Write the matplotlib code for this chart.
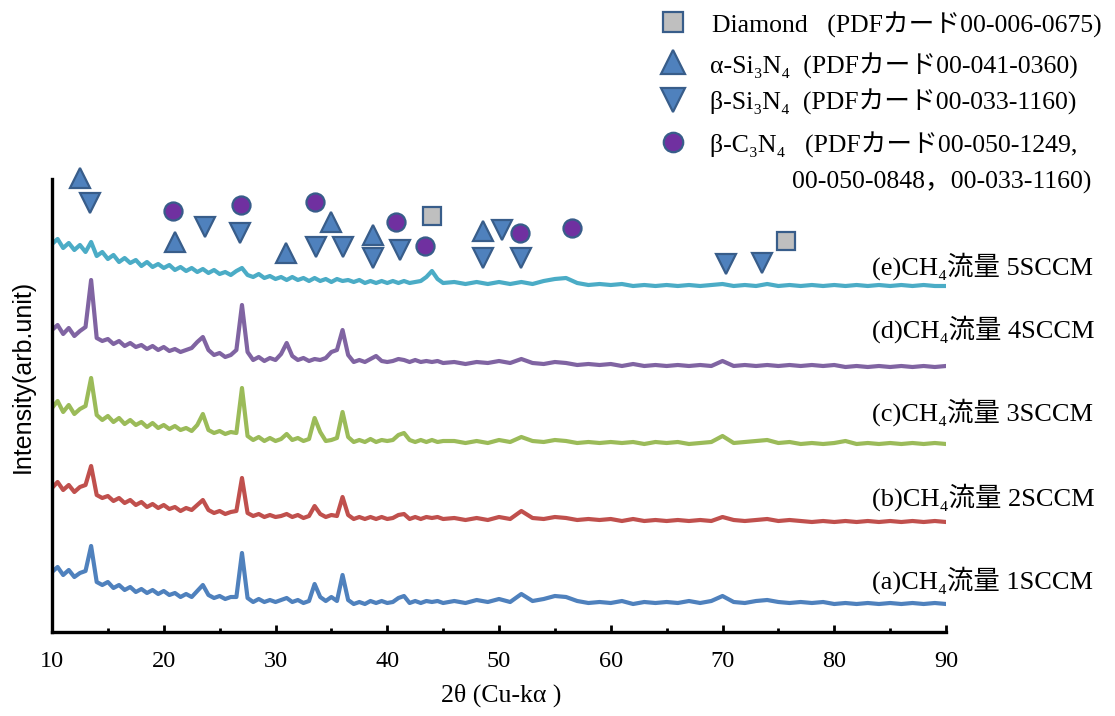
import numpy as np
import matplotlib
matplotlib.use("Agg")
import matplotlib.pyplot as plt
from matplotlib.lines import Line2D

serif = ["Liberation Serif", "Noto Sans CJK JP", "DejaVu Serif"]
plt.rcParams["font.family"] = serif

# 2θ sampling: 0.5 deg up to 45, 1 deg beyond
two_theta = np.concatenate([np.arange(10, 45.01, 0.5), np.arange(46, 90.01, 1.0)])

# intensities (arb. unit), stacked as in the figure
int_a = [60, 65, 57, 62, 55, 59, 61, 86, 50, 47, 50, 44, 47, 42, 45, 40, 43, 39, 42, 38,
         41, 37, 39, 35, 38, 35, 41, 47, 37, 34, 36, 33, 35, 35, 79, 34, 30, 33, 30, 32,
         30, 32, 34, 30, 32, 29, 31, 48, 35, 31, 35, 31, 57, 32, 28, 30, 28, 31, 29, 31,
         29, 30, 34, 36, 29, 31, 29, 31, 30, 31, 29,
         31, 29, 32, 30, 33, 30, 38, 31, 33, 36, 35, 31, 29, 30, 29, 31, 28, 30, 29, 30,
         29, 31, 29, 31, 36, 30, 29, 31, 32, 30, 29, 30, 29, 30, 28, 29, 28, 29, 28, 29,
         28, 29, 28, 29, 28]
int_b = [144, 150, 142, 147, 140, 145, 147, 166, 137, 134, 136, 131, 134, 129, 132, 127, 130, 125, 128, 124,
         127, 123, 125, 121, 124, 122, 127, 132, 122, 119, 121, 118, 120, 121, 154, 119, 116, 118, 115, 117,
         115, 116, 118, 115, 117, 114, 116, 126, 118, 115, 117, 116, 135, 117, 113, 115, 113, 115, 113, 115,
         113, 114, 117, 118, 113, 115, 113, 115, 114, 115, 113,
         114, 112, 114, 112, 115, 113, 121, 114, 113, 115, 114, 112, 113, 112, 113, 111, 113, 111, 112, 111,
         112, 111, 112, 111, 115, 112, 111, 112, 113, 111, 112, 111, 110, 111, 110, 111, 110, 111, 110, 111,
         110, 111, 110, 111, 110]
int_c = [224, 231, 220, 227, 218, 223, 226, 254, 217, 212, 216, 210, 214, 208, 212, 207, 210, 205, 209, 204,
         207, 203, 206, 202, 204, 201, 207, 218, 202, 199, 201, 198, 200, 199, 244, 196, 192, 195, 191, 194,
         191, 193, 198, 192, 194, 191, 193, 214, 200, 191, 192, 194, 220, 195, 190, 192, 190, 193, 190, 192,
         191, 192, 197, 199, 192, 190, 192, 190, 192, 190, 191,
         191, 189, 191, 189, 192, 190, 195, 191, 190, 192, 191, 189, 190, 189, 190, 189, 190, 188, 190, 189,
         190, 188, 189, 190, 196, 189, 190, 191, 192, 189, 190, 188, 189, 188, 189, 191, 188, 189, 188, 189,
         188, 189, 188, 189, 188]
int_d = [302, 307, 298, 304, 296, 301, 305, 352, 294, 291, 293, 288, 291, 286, 289, 285, 287, 283, 286, 282,
         285, 281, 283, 280, 282, 284, 290, 295, 282, 277, 279, 275, 277, 282, 327, 280, 272, 275, 271, 274,
         272, 278, 289, 276, 272, 274, 271, 273, 272, 274, 280, 282, 302, 277, 270, 272, 270, 273, 276, 271,
         270, 271, 273, 272, 270, 272, 270, 271, 270, 271, 269,
         270, 268, 270, 269, 271, 269, 273, 269, 268, 270, 269, 267, 268, 267, 268, 266, 268, 266, 267, 266,
         267, 266, 267, 266, 271, 266, 267, 266, 267, 266, 267, 266, 267, 266, 267, 265, 266, 265, 266, 265,
         266, 265, 266, 265, 266]
int_e = [388, 393, 384, 389, 382, 387, 380, 390, 376, 380, 373, 377, 370, 374, 369, 372, 366, 370, 365, 368,
         364, 367, 362, 365, 361, 364, 360, 363, 359, 362, 358, 360, 357, 361, 364, 357, 355, 358, 354, 356,
         353, 355, 352, 355, 352, 354, 351, 354, 351, 353, 350, 353, 351, 352, 350, 352, 349, 351, 349, 351,
         349, 351, 349, 351, 349, 350, 351, 355, 361, 353, 349,
         350, 348, 350, 348, 350, 348, 350, 348, 351, 353, 354, 349, 347, 348, 347, 348, 346, 347, 346, 347,
         346, 347, 346, 347, 348, 346, 347, 346, 348, 346, 347, 346, 347, 346, 347, 346, 347, 346, 347, 346,
         347, 346, 347, 346, 346]

traces = [int_a, int_b, int_c, int_d, int_e]
colors = ["#4F81BD", "#C0504D", "#9BBB59", "#8064A2", "#4BACC6"]
labels = ["(a)CH₄流量 1SCCM", "(b)CH₄流量 2SCCM", "(c)CH₄流量 3SCCM",
          "(d)CH₄流量 4SCCM", "(e)CH₄流量 5SCCM"]

# reference peak markers (2θ, height)
alpha_x = [12.5, 21.0, 30.9, 35.0, 38.7, 48.6]
alpha_y = [454, 390, 379, 410, 397, 401]
beta_x = [13.4, 23.7, 26.8, 33.6, 36.0, 38.7, 41.1, 48.6, 50.3, 52.0, 70.3, 73.5]
beta_y = [429, 405, 399, 385, 385, 374, 382, 374, 402, 374, 368, 369]
c3n4_x = [20.8, 26.9, 33.5, 40.8, 43.4, 51.9, 56.5]
c3n4_y = [421, 427, 430, 410, 386, 399, 404]
diamond_x = [44.0, 75.7]
diamond_y = [416, 391]

legend_text = ["Diamond   (PDFカード00-006-0675)",
               "α-Si₃N₄  (PDFカード00-041-0360)",
               "β-Si₃N₄  (PDFカード00-033-1160)",
               "β-C₃N₄   (PDFカード00-050-1249,",
               "00-050-0848，00-033-1160)"]

W, H = 1115, 716
fig = plt.figure(figsize=(W / 100, H / 100), dpi=100)
ax = fig.add_axes([52 / W, 84 / H, 894 / W, 453 / H])

for y, c in zip(traces, colors):
    ax.plot(two_theta, y, color=c, lw=3.0, solid_joinstyle="round")

edge = "#385D8A"
mk = dict(linestyle="none", markeredgecolor=edge, markeredgewidth=1.6, clip_on=False, zorder=5)
ax.plot(alpha_x, alpha_y, marker="^", ms=14, markerfacecolor="#4F81BD", **mk)
ax.plot(beta_x, beta_y, marker="v", ms=14, markerfacecolor="#4F81BD", **mk)
ax.plot(c3n4_x, c3n4_y, marker="o", ms=13, markerfacecolor="#7030A0", **mk)
ax.plot(diamond_x, diamond_y, marker="s", ms=12.5, markerfacecolor="#BFBFBF", **mk)

ax.set_xlim(10, 90)
ax.set_ylim(0, 453)
ax.set_xticks(range(10, 91, 10))
ax.set_xticks(range(15, 90, 10), minor=True)
ax.set_yticks([])
ax.tick_params(axis="x", which="major", direction="in", length=5, width=2, labelsize=17.5, pad=14)
ax.tick_params(axis="x", which="minor", direction="in", length=3, width=2)
for s in ["top", "right"]:
    ax.spines[s].set_visible(False)
for s in ["left", "bottom"]:
    ax.spines[s].set_linewidth(2.4)

for lab, py in zip(labels, [580, 497, 412, 329, 266]):
    fig.text(872 / W, 1 - py / H, lab, fontsize=19, va="center", ha="left")

fig.text(23 / W, 1 - 376 / H, "Intensity(arb.unit)", rotation=90, fontsize=18,
         family=["Liberation Sans", "DejaVu Sans"], ha="center", va="center")
fig.text(501 / W, 1 - 695 / H, "2θ (Cu-kα )", fontsize=18.5, ha="center", va="center")

# legend drawn by hand
leg_mk = [("s", "#BFBFBF", 15, 22), ("^", "#4F81BD", 17, 62), ("v", "#4F81BD", 17, 100),
          ("o", "#7030A0", 14, 142)]
for m, fc, size, py in leg_mk:
    fig.add_artist(Line2D([673 / W], [1 - py / H], marker=m, ms=size, markerfacecolor=fc,
                          markeredgecolor=edge, markeredgewidth=1.6, linestyle="none",
                          transform=fig.transFigure))
for txt, px, py in zip(legend_text, [712, 710, 710, 710, 792], [25, 66, 102, 145, 182]):
    fig.text(px / W, 1 - py / H, txt, fontsize=18.5, va="center", ha="left")

fig.savefig("out.png", dpi=100)
